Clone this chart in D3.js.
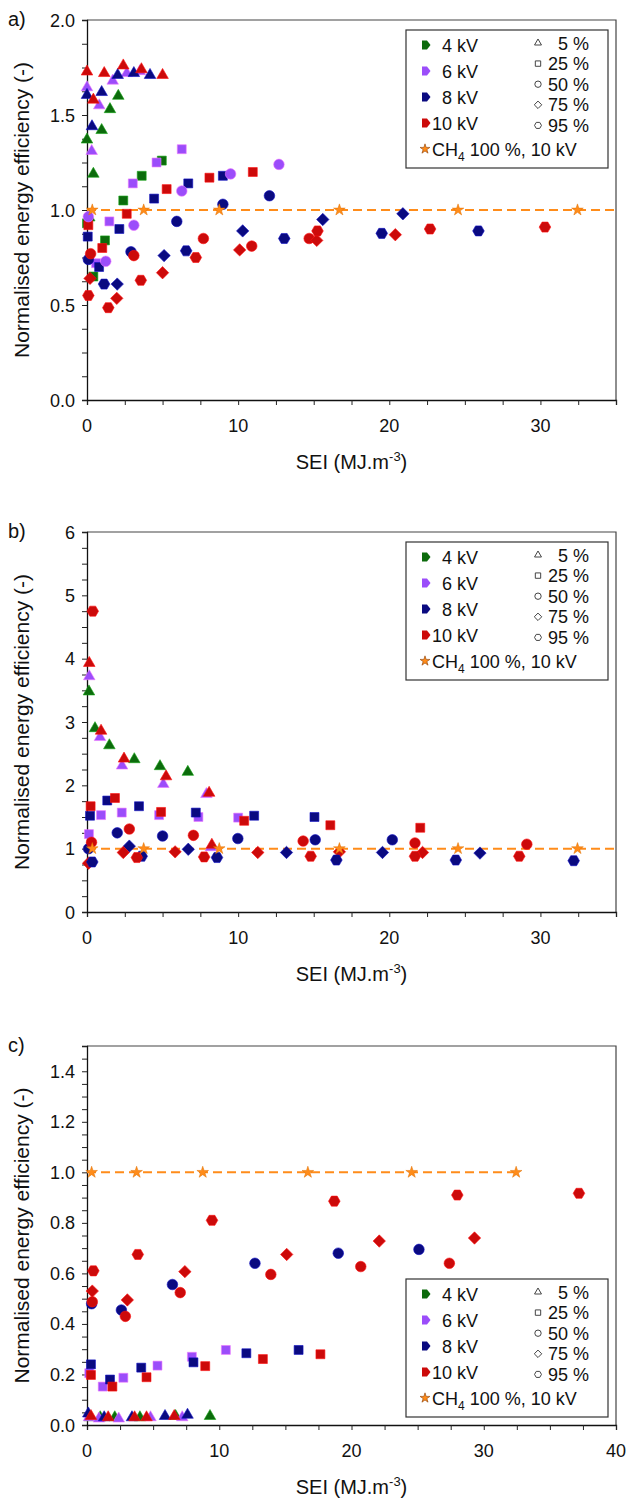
<!DOCTYPE html>
<html><head><meta charset="utf-8">
<script src="https://cdn.jsdelivr.net/npm/d3@7"></script>
<style>
body{margin:0;background:#fff}
text{font-family:"Liberation Sans",Arial,sans-serif;fill:#111}
</style></head>
<body><svg id="chart" width="628" height="1500"></svg>
<script>
// ---------- legend / categories ----------
const voltages = ["4 kV","6 kV","8 kV","10 kV"];
const voltageColors = ["#0c6b0c","#9b4dfa","#0a0a80","#cc0a0a"];
const concentrations = ["5 %","25 %","50 %","75 %","95 %"];
const concShapes = ["tri","sq","circ","dia","hex"];
const starLabel = "CH4 100 %, 10 kV";
const starSEI = [0.35,3.75,8.75,16.7,24.55,32.45];
const starEff = [1,1,1,1,1,1];

// ---------- panel a : rows [voltage, SEI, efficiency] ----------
const a_5 = [
 ["4 kV",0,1.37],["4 kV",0.42,1.19],["4 kV",0.97,1.42],["4 kV",1.52,1.53],["4 kV",2.07,1.60],["4 kV",0.15,0.96],
 ["6 kV",0,1.645],["6 kV",0.31,1.31],["6 kV",0.81,1.55],["6 kV",1.7,1.68],["6 kV",2.63,1.72],["6 kV",3.5,1.73],
 ["8 kV",0,1.605],["8 kV",0.33,1.44],["8 kV",0.97,1.62],["8 kV",2.03,1.71],["8 kV",3.1,1.72],["8 kV",4.17,1.71],
 ["10 kV",0,1.728],["10 kV",0.42,1.58],["10 kV",1.14,1.72],["10 kV",2.4,1.76],["10 kV",3.6,1.74],["10 kV",5.0,1.71]];
const a_25 = [
 ["4 kV",0,0.93],["4 kV",0.42,0.65],["4 kV",1.19,0.84],["4 kV",2.4,1.05],["4 kV",3.62,1.18],["4 kV",4.95,1.26],
 ["6 kV",0.6,0.72],["6 kV",1.48,0.94],["6 kV",3.03,1.14],["6 kV",4.6,1.25],["6 kV",6.27,1.32],
 ["8 kV",0.05,0.86],["8 kV",0.8,0.70],["8 kV",2.14,0.90],["8 kV",4.44,1.06],["8 kV",6.7,1.14],["8 kV",8.99,1.18],
 ["10 kV",0.09,0.92],["10 kV",1.01,0.80],["10 kV",2.63,0.98],["10 kV",5.27,1.11],["10 kV",8.1,1.17],["10 kV",10.97,1.20]];
const a_50 = [
 ["6 kV",0.09,0.965],["6 kV",1.24,0.73],["6 kV",3.1,0.92],["6 kV",6.27,1.10],["6 kV",9.5,1.19],["6 kV",12.7,1.24],
 ["8 kV",0.09,0.74],["8 kV",2.91,0.78],["8 kV",5.94,0.94],["8 kV",8.99,1.03],["8 kV",12.07,1.075],
 ["10 kV",0.24,0.77],["10 kV",3.1,0.76],["10 kV",7.7,0.85],["10 kV",10.9,0.81],["10 kV",14.7,0.85]];
const a_75 = [
 ["8 kV",2.0,0.61],["8 kV",5.1,0.76],["8 kV",10.3,0.89],["8 kV",15.6,0.95],["8 kV",20.9,0.98],
 ["10 kV",0.2,0.64],["10 kV",1.97,0.535],["10 kV",5.0,0.67],["10 kV",10.1,0.79],["10 kV",15.2,0.84],["10 kV",20.4,0.87]];
const a_95 = [
 ["8 kV",1.13,0.61],["8 kV",6.56,0.785],["8 kV",13.05,0.85],["8 kV",19.5,0.877],["8 kV",25.9,0.89],
 ["10 kV",0.09,0.55],["10 kV",1.41,0.486],["10 kV",3.56,0.63],["10 kV",7.2,0.75],["10 kV",15.25,0.89],["10 kV",22.7,0.90],["10 kV",30.3,0.91]];

// ---------- panel b ----------
const b_5 = [
 ["4 kV",0.13,3.48],["4 kV",0.53,2.90],["4 kV",1.48,2.63],["4 kV",3.13,2.41],["4 kV",4.83,2.30],["4 kV",6.67,2.21],
 ["6 kV",0.15,3.72],["6 kV",0.86,2.76],["6 kV",2.32,2.31],["6 kV",5.05,2.02],["6 kV",7.9,1.86],["6 kV",8.2,1.02],
 ["10 kV",0.15,3.93],["10 kV",0.93,2.86],["10 kV",2.45,2.42],["10 kV",5.23,2.14],["10 kV",8.08,1.88],["10 kV",8.26,1.06]];
const b_25 = [
 ["6 kV",0.13,1.23],["6 kV",0.93,1.53],["6 kV",2.3,1.57],["6 kV",4.77,1.53],["6 kV",7.37,1.50],["6 kV",10.0,1.49],
 ["8 kV",0.2,1.52],["8 kV",1.34,1.76],["8 kV",3.44,1.67],["8 kV",7.2,1.57],["8 kV",11.06,1.52],["8 kV",15.05,1.50],
 ["10 kV",0.24,1.67],["10 kV",1.85,1.80],["10 kV",4.9,1.58],["10 kV",10.4,1.44],["10 kV",16.1,1.37],["10 kV",22.05,1.33]];
const b_50 = [
 ["8 kV",0.1,1.0],["8 kV",2.0,1.25],["8 kV",5.0,1.20],["8 kV",9.98,1.16],["8 kV",15.1,1.14],["8 kV",20.2,1.14],
 ["10 kV",0.3,1.10],["10 kV",2.8,1.31],["10 kV",7.04,1.21],["10 kV",14.3,1.12],["10 kV",21.7,1.09],["10 kV",29.1,1.07]];
const b_75 = [
 ["8 kV",2.8,1.04],["8 kV",6.7,0.99],["8 kV",13.2,0.94],["8 kV",19.55,0.94],["8 kV",26.0,0.93],
 ["10 kV",0.1,0.77],["10 kV",2.4,0.94],["10 kV",5.83,0.95],["10 kV",11.3,0.94],["10 kV",16.7,0.95],["10 kV",22.2,0.94]];
const b_95 = [
 ["8 kV",0.35,0.79],["8 kV",3.62,0.88],["8 kV",8.6,0.86],["8 kV",16.5,0.82],["8 kV",24.4,0.82],["8 kV",32.2,0.81],
 ["10 kV",0.38,4.75],["10 kV",3.3,0.86],["10 kV",7.75,0.87],["10 kV",14.8,0.88],["10 kV",21.7,0.88],["10 kV",28.6,0.88]];

// ---------- panel c ----------
const c_5 = [
 ["4 kV",0.2,0.03],["4 kV",1.0,0.03],["4 kV",2.1,0.03],["4 kV",4.0,0.03],["4 kV",6.7,0.035],["4 kV",9.3,0.035],
 ["6 kV",0.15,0.03],["6 kV",0.9,0.025],["6 kV",2.4,0.025],["6 kV",4.8,0.03],["6 kV",7.2,0.03],
 ["8 kV",0.1,0.045],["8 kV",1.3,0.03],["8 kV",3.4,0.03],["8 kV",5.9,0.035],["8 kV",7.6,0.04],
 ["10 kV",0.3,0.035],["10 kV",1.6,0.03],["10 kV",3.6,0.03],["10 kV",4.5,0.03],["10 kV",6.6,0.035]];
const c_25 = [
 ["6 kV",0.17,0.205],["6 kV",1.19,0.152],["6 kV",2.75,0.187],["6 kV",5.33,0.235],["6 kV",7.93,0.27],["6 kV",10.5,0.297],
 ["8 kV",0.3,0.24],["8 kV",1.74,0.18],["8 kV",4.1,0.227],["8 kV",8.05,0.248],["8 kV",12.05,0.284],["8 kV",16.0,0.297],
 ["10 kV",0.3,0.198],["10 kV",1.92,0.152],["10 kV",4.5,0.189],["10 kV",8.94,0.233],["10 kV",13.3,0.261],["10 kV",17.65,0.28]];
const c_50 = [
 ["8 kV",0.35,0.48],["8 kV",2.6,0.455],["8 kV",6.46,0.556],["8 kV",12.7,0.64],["8 kV",19.0,0.68],["8 kV",25.1,0.695],
 ["10 kV",0.4,0.488],["10 kV",2.9,0.43],["10 kV",7.05,0.524],["10 kV",13.9,0.596],["10 kV",20.7,0.627],["10 kV",27.4,0.64]];
const c_75 = [
 ["10 kV",0.4,0.53],["10 kV",3.05,0.495],["10 kV",7.4,0.607],["10 kV",15.1,0.675],["10 kV",22.1,0.728],["10 kV",29.3,0.74]];
const c_95 = [
 ["10 kV",0.48,0.61],["10 kV",3.84,0.675],["10 kV",9.45,0.81],["10 kV",18.7,0.886],["10 kV",28.0,0.91],["10 kV",37.2,0.917]];

// ---------- axis ticks ----------
const xTicksAB = [0,10,20,30];
const xTicksC = [0,10,20,30,40];
const yTicksA = [0,0.5,1.0,1.5,2.0];
const yTicksB = [0,1,2,3,4,5,6];
const yTicksC = [0,0.2,0.4,0.6,0.8,1.0,1.2,1.4];

const panels = [
 {label:"a)", top:20, bottom:400, xMax:35, yMax:2, xTicks:xTicksAB, yTicks:yTicksA, yMinor:0.125, fmt:d3.format(".1f"),
  sets:[a_5,a_25,a_50,a_75,a_95], legendTop:30, lineEnd:35},
 {label:"b)", top:532, bottom:912, xMax:35, yMax:6, xTicks:xTicksAB, yTicks:yTicksB, yMinor:0.25, fmt:d3.format("d"),
  sets:[b_5,b_25,b_50,b_75,b_95], legendTop:542, lineEnd:35},
 {label:"c)", top:1046, bottom:1425, xMax:40, yMax:1.5, xTicks:xTicksC, yTicks:yTicksC, yMinor:0.05, fmt:d3.format(".1f"),
  sets:[c_5,c_25,c_50,c_75,c_95], legendTop:1279, lineEnd:32.45}
];

const svg = d3.select("#chart");
svg.append("rect").attr("width",628).attr("height",1500).attr("fill","#fff");
const left = 87, right = 616;
const colorScale = d3.scaleOrdinal().domain(voltages).range(voltageColors);

function shapePath(s, k){
  k = k || 1;
  if (s==="tri") return d3.symbol(d3.symbolTriangle, 58*k*k)();
  if (s==="sq") return d3.symbol(d3.symbolSquare, 80*k*k)();
  if (s==="circ") return d3.symbol(d3.symbolCircle, 88*k*k)();
  if (s==="dia") { const r=6.2*k; return `M0,${-r}L${r},0L0,${r}L${-r},0Z`; }
  if (s==="hex") { const r=5.8*k; return d3.range(6).map((i)=>{const a=i*Math.PI/3; return (i?"L":"M")+(r*Math.cos(a)).toFixed(2)+","+(r*Math.sin(a)).toFixed(2);}).join("")+"Z"; }
}

panels.forEach(p=>{
  const g = svg.append("g");
  const x = d3.scaleLinear().domain([0,p.xMax]).range([left,right]);
  const y = d3.scaleLinear().domain([0,p.yMax]).range([p.bottom,p.top]);

  g.append("path").attr("d",`M${left},${p.top}H${right}V${p.bottom}`).attr("fill","none").attr("stroke","#444").attr("stroke-width",1.2);

  const xa = g.append("g").attr("transform",`translate(0,${p.bottom})`)
    .call(d3.axisBottom(x).tickValues(d3.range(0,p.xMax+0.001,2.5)).tickSize(5).tickFormat(()=>""));
  xa.select(".domain").attr("stroke","#111").attr("stroke-width",1.3);
  xa.selectAll(".tick line").attr("stroke","#222");
  g.append("g").selectAll("text").data(p.xTicks).join("text")
    .attr("x",d=>x(d)).attr("y",p.bottom+32).attr("text-anchor","middle").attr("font-size",18).text(d=>d);

  const ya = g.append("g").attr("transform",`translate(${left},0)`)
    .call(d3.axisLeft(y).tickValues(d3.range(0,p.yMax+1e-6,p.yMinor)).tickSize(5).tickFormat(()=>""));
  ya.select(".domain").attr("stroke","#111").attr("stroke-width",1.3);
  ya.selectAll(".tick line").attr("stroke","#222");
  g.append("g").selectAll("text").data(p.yTicks).join("text")
    .attr("x",left-12).attr("y",d=>y(d)+6.5).attr("text-anchor","end").attr("font-size",18).text(d=>p.fmt(d));

  const xt = g.append("text").attr("x",(left+right)/2).attr("y",p.bottom+69).attr("text-anchor","middle").attr("font-size",20);
  xt.append("tspan").text("SEI (MJ.m");
  xt.append("tspan").attr("dy",-8).attr("font-size",13).text("-3");
  xt.append("tspan").attr("dy",8).text(")");
  g.append("text").attr("transform",`translate(29,${(p.top+p.bottom)/2}) rotate(-90)`).attr("text-anchor","middle")
    .attr("font-size",21).text("Normalised energy efficiency (-)");
  g.append("text").attr("x",8).attr("y",p.top+6).attr("font-size",20).text(p.label);

  g.append("line").attr("x1",x(0)).attr("x2",x(p.lineEnd)).attr("y1",y(1)).attr("y2",y(1))
    .attr("stroke","#ff8c1a").attr("stroke-width",2).attr("stroke-dasharray","9,5");

  p.sets.forEach((rows,ci)=>{
    g.append("g").selectAll("path").data(rows).join("path")
      .attr("d",shapePath(concShapes[ci]))
      .attr("transform",d=>`translate(${x(d[1])},${y(d[2])})`)
      .attr("fill",d=>colorScale(d[0]))
      .attr("stroke",d=>d3.color(colorScale(d[0])).brighter(1.2))
      .attr("stroke-width",0.6);
  });
  g.append("g").selectAll("path").data(starSEI).join("path")
    .attr("d",d3.symbol(d3.symbolStar,42)())
    .attr("transform",(d,i)=>`translate(${x(d)},${y(starEff[i])})`)
    .attr("fill","#ff8c1a").attr("stroke","#e07000").attr("stroke-width",0.5);

  const lg = g.append("g").attr("transform",`translate(406,${p.legendTop})`);
  lg.append("rect").attr("width",202).attr("height",138).attr("fill","#fff").attr("stroke","#333").attr("stroke-width",1.2);
  voltages.forEach((v,i)=>{
    const cy = 15+i*26;
    lg.append("path").attr("d","M-4,-4.5L1,-4.5L4.5,0L1,4.5L-4,4.5Z").attr("transform",`translate(20,${cy})`).attr("fill",colorScale(v));
    lg.append("text").attr("x",72).attr("y",cy+6.5).attr("text-anchor","end").attr("font-size",18).text(v);
  });
  concentrations.forEach((c,i)=>{
    const cy = 13+i*20.6;
    lg.append("path").attr("d",shapePath(concShapes[i],0.6)).attr("transform",`translate(132,${cy})`)
      .attr("fill","#fff").attr("stroke","#444").attr("stroke-width",1);
    lg.append("text").attr("x",183).attr("y",cy+6.5).attr("text-anchor","end").attr("font-size",18).text(c);
  });
  lg.append("path").attr("d",d3.symbol(d3.symbolStar,30)()).attr("transform","translate(19,119)").attr("fill","#ff8c1a").attr("stroke","#8a3a00").attr("stroke-width",0.6);
  const st = lg.append("text").attr("x",26).attr("y",125.5).attr("font-size",18);
  st.append("tspan").text("CH");
  st.append("tspan").attr("dy",5).attr("font-size",12).text("4");
  st.append("tspan").attr("dy",-5).text(" 100 %, 10 kV");
});
</script></body></html>
